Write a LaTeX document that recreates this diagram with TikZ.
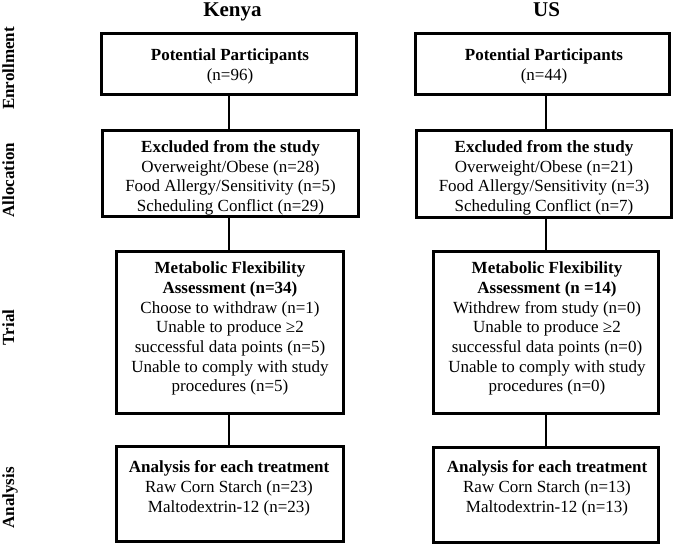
\documentclass[tikz,border=0pt]{standalone}
\usepackage{fontspec}
\setmainfont{Liberation Serif}
\begin{document}
\begin{tikzpicture}[x=1pt,y=-1pt,
  flowbox/.style={draw=black, line width=3pt, inner sep=0pt},
  boxtext/.style={inner sep=0pt, align=center, anchor=north, font=\fontsize{17}{19.7}\selectfont},
  coltitle/.style={inner sep=0pt, anchor=base, font=\fontsize{21}{24}\selectfont\bfseries},
  rowlabel/.style={inner sep=0pt, anchor=base, rotate=90, font=\fontsize{17}{19}\selectfont\bfseries},
  conn/.style={draw=black, line width=2.3pt}]
\useasboundingbox (0,0) rectangle (676,545);

% column titles
\node[coltitle] (tk) at (232.5,16.5) {Kenya};
\node[coltitle] (tu) at (546.5,16.5) {US};

% row labels
\node[rowlabel] (r1) at (14,68.5) {Enrollment};
\node[rowlabel] (r2) at (14,180) {Allocation};
\node[rowlabel] (r3) at (14,327.5) {Trial};
\node[rowlabel] (r4) at (14,498) {Analysis};

% Kenya boxes
\node[flowbox, minimum width=255.5pt, minimum height=61.5pt] (k1) at (229.2,64.2) {};
\node[flowbox, minimum width=256pt, minimum height=86pt] (k2) at (230.5,173.5) {};
\node[flowbox, minimum width=227pt, minimum height=162pt] (k3) at (230,332.5) {};
\node[flowbox, minimum width=227pt, minimum height=95pt] (k4) at (230,494) {};

% US boxes
\node[flowbox, minimum width=254pt, minimum height=61.5pt] (u1) at (542.5,64.2) {};
\node[flowbox, minimum width=255pt, minimum height=87pt] (u2) at (544,174) {};
\node[flowbox, minimum width=225pt, minimum height=162pt] (u3) at (546,332.5) {};
\node[flowbox, minimum width=225pt, minimum height=95pt] (u4) at (546,494.5) {};

% Kenya texts
\node[boxtext] (k1t) at (230,49) {\textbf{Potential Participants}\\(n=96)};
\node[boxtext] (k2t) at (230.5,140.2) {\textbf{Excluded from the study}\\Overweight/Obese (n=28)\\Food Allergy/Sensitivity (n=5)\\Scheduling Conflict (n=29)};
\node[boxtext] (k3t) at (230,261.8) {\textbf{Metabolic Flexibility}\\\textbf{Assessment (n=34)}\\Choose to withdraw (n=1)\\Unable to produce ≥2\\successful data points (n=5)\\Unable to comply with study\\procedures (n=5)};
\node[boxtext] (k4t) at (229,460.5) {\textbf{Analysis for each treatment}\\Raw Corn Starch (n=23)\\Maltodextrin-12 (n=23)};

% US texts
\node[boxtext] (u1t) at (544,49) {\textbf{Potential Participants}\\(n=44)};
\node[boxtext] (u2t) at (544,140.2) {\textbf{Excluded from the study}\\Overweight/Obese (n=21)\\Food Allergy/Sensitivity (n=3)\\Scheduling Conflict (n=7)};
\node[boxtext] (u3t) at (547,261.8) {\textbf{Metabolic Flexibility}\\\textbf{Assessment (n =14)}\\Withdrew from study (n=0)\\Unable to produce ≥2\\successful data points (n=0)\\Unable to comply with study\\procedures (n=0)};
\node[boxtext] (u4t) at (547,460.5) {\textbf{Analysis for each treatment}\\Raw Corn Starch (n=13)\\Maltodextrin-12 (n=13)};

% connector columns
\coordinate (kx) at (229,0);
\coordinate (ux) at (546,0);
\draw[conn] (k1.south -| kx) -- (k2.north -| kx);
\draw[conn] (k2.south -| kx) -- (k3.north -| kx);
\draw[conn] (k3.south -| kx) -- (k4.north -| kx);
\draw[conn] (u1.south -| ux) -- (u2.north -| ux);
\draw[conn] (u2.south -| ux) -- (u3.north -| ux);
\draw[conn] (u3.south -| ux) -- (u4.north -| ux);
\end{tikzpicture}
\end{document}
